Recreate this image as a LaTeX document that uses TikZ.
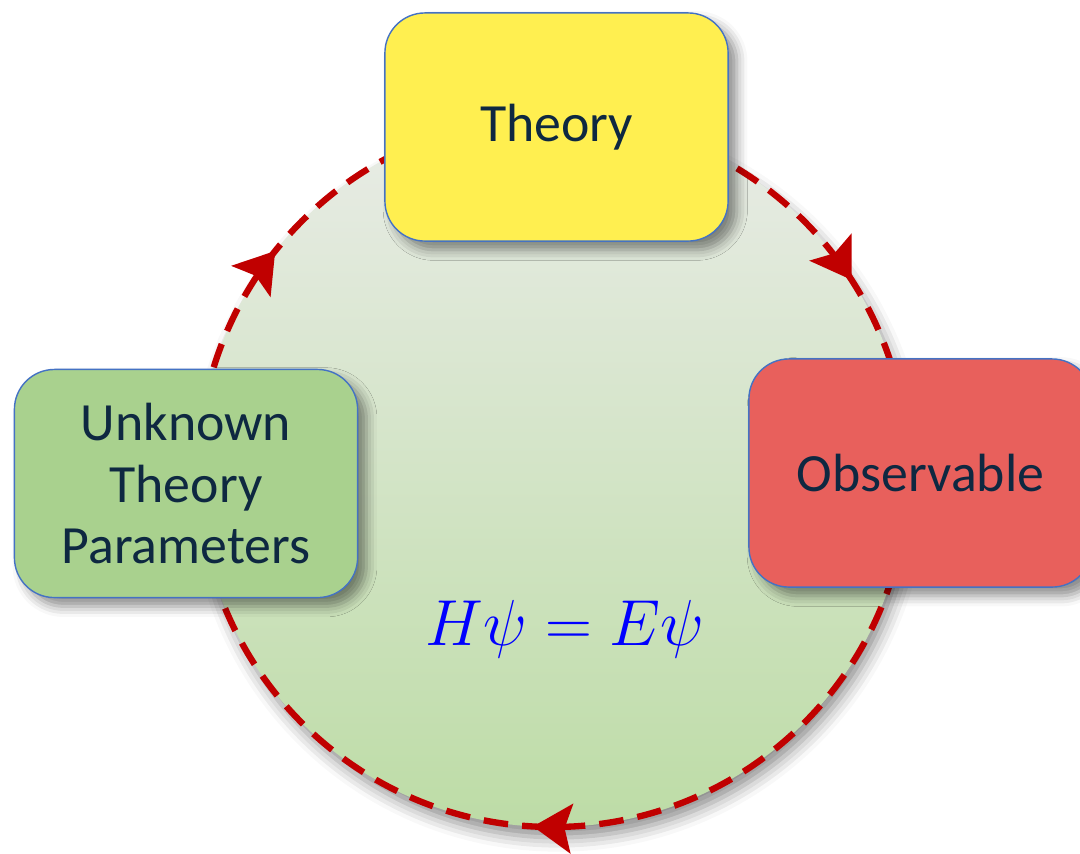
\RequirePackage{fix-cm}
\documentclass[tikz,border=0pt]{standalone}
\usepackage{fontspec}
\newfontfamily\calib{Carlito}
\usetikzlibrary{shadows.blur,decorations.markings,arrows.meta}
\definecolor{tyellow}{HTML}{FFEF50}
\definecolor{ugreen}{HTML}{A9D18E}
\definecolor{ored}{HTML}{E8605C}
\definecolor{bordblue}{HTML}{4472C4}
\definecolor{txtnavy}{HTML}{0E2841}
\definecolor{dred}{HTML}{C00000}
\definecolor{cirtop}{HTML}{E9ECE7}
\definecolor{cirmid}{HTML}{C6D4BD}
\definecolor{cirbot}{HTML}{BDDCA6}
\begin{document}
\begin{tikzpicture}[x=0.01cm,y=0.01cm,
  box/.style={draw=bordblue, line width=0.4pt, rounded corners=0.4cm,
    minimum width=3.43cm, minimum height=2.28cm, inner sep=0pt, align=center,
    text=txtnavy, font=\calib\fontsize{15.3}{17.6}\selectfont,
    blur shadow={shadow xshift=2.5pt, shadow yshift=-2.5pt, shadow blur radius=3pt, shadow opacity=45}},
  cyc/.style={draw=dred, line width=1.8pt, dash pattern=on 7pt off 4pt}]
\useasboundingbox (0,0) rectangle (1080,853);
\coordinate (c) at (553,381);
\shade[top color=cirtop, middle color=cirmid, bottom color=cirbot,
  blur shadow={shadow xshift=1.5pt, shadow yshift=-3pt, shadow blur radius=4pt, shadow opacity=45}]
  (c) circle [radius=355];
\draw[cyc, postaction={decorate}, decoration={markings,
    mark=at position 0.159 with {\arrow[dred]{Stealth[length=11pt,width=14pt,inset=2pt]}},
    mark=at position 0.509 with {\arrow[dred]{Stealth[length=11pt,width=14pt,inset=2pt]}},
    mark=at position 0.857 with {\arrow[dred]{Stealth[length=11pt,width=14pt,inset=2pt]}}}]
  (c) ++(90:355) arc[start angle=90, end angle=-270, radius=355];
\node[box, fill=tyellow] (theory) at (556.5,726) {Theory};
\node[box, fill=ugreen] (unknown) at (186,369.5) {Unknown\\Theory\\Parameters};
\node[box, fill=ored] (obs) at (920.5,380) {Observable};
\node[text=blue, font=\fontsize{18.5}{20}\selectfont, anchor=base] (eq) at (565,208) {$H\psi = E\psi$};
\end{tikzpicture}
\end{document}
